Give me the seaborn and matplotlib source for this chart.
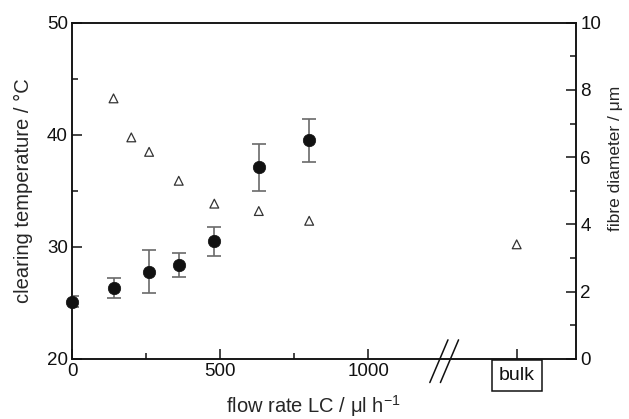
import matplotlib
matplotlib.use("Agg")
import matplotlib.pyplot as plt
import numpy as np
import pandas as pd
import seaborn as sns
from matplotlib.ticker import FixedLocator, MultipleLocator

# ------------------------------

flow_rate = [0, 140, 260, 360, 480, 630, 800]
clearing_temp = [25.1, 26.3, 27.8, 28.4, 30.5, 37.1, 39.5]
clearing_err = [0.5, 0.9, 1.9, 1.1, 1.3, 2.1, 1.9]

fibre_flow = [140, 200, 260, 360, 480, 630, 800]
fibre_diam = [7.75, 6.59, 6.16, 5.30, 4.62, 4.40, 4.11]

BULK_X = 1500
bulk_diam = 3.41

x_ticks_labelled = [0, 500, 1000]
x_ticks_minor = [250, 750]

BLACK = "#111111"
ERR_GREY = "#6a6a6a"
TRI_GREY = "#333333"

DPI = 100
FIGSIZE = (629 / DPI, 419 / DPI)

sns.set_style("ticks")
plt.rcParams["font.family"] = ["Liberation Sans", "DejaVu Sans"]
plt.rcParams["mathtext.fontset"] = "custom"
plt.rcParams["mathtext.rm"] = "Liberation Sans"
plt.rcParams["mathtext.it"] = "Liberation Sans:italic"

# ------------------------------

temp_df = pd.DataFrame({"flow": flow_rate, "temp": clearing_temp, "err": clearing_err})
diam_df = pd.DataFrame(
    {"flow": fibre_flow + [BULK_X], "diam": fibre_diam + [bulk_diam]}
)

fig = plt.figure(figsize=FIGSIZE, dpi=DPI)
ax = fig.add_axes([0.1145, 0.1432, 0.8012, 0.8026])
ax2 = ax.twinx()

# clearing temperature with error bars
ax.errorbar(
    temp_df["flow"], temp_df["temp"], yerr=temp_df["err"],
    fmt="none", ecolor=ERR_GREY, elinewidth=1.2, capsize=4.8, capthick=1.2, zorder=2,
)
sns.scatterplot(
    data=temp_df, x="flow", y="temp", ax=ax, color=BLACK, s=80,
    marker="o", edgecolor=BLACK, linewidth=0.5, zorder=3, legend=False,
)
for coll in ax.collections:
    coll.set_clip_on(False)

# fibre diameter (open triangles)
sns.scatterplot(
    data=diam_df, x="flow", y="diam", ax=ax2, marker="^", s=40,
    facecolor="none", edgecolor=TRI_GREY, linewidth=0.9, legend=False,
)

ax.set_xlim(0, 1700)
ax.set_ylim(20, 50)
ax2.set_ylim(0, 10)

ax.xaxis.set_major_locator(FixedLocator(x_ticks_labelled + [BULK_X]))
ax.set_xticklabels([str(v) for v in x_ticks_labelled] + [""])
ax.xaxis.set_minor_locator(FixedLocator(x_ticks_minor))
ax.yaxis.set_major_locator(MultipleLocator(10))
ax.yaxis.set_minor_locator(MultipleLocator(5))
ax2.yaxis.set_major_locator(MultipleLocator(2))
ax2.yaxis.set_minor_locator(MultipleLocator(1))

for a in (ax, ax2):
    for sp in a.spines.values():
        sp.set_linewidth(1.1)
        sp.set_color(BLACK)
    a.tick_params(which="major", direction="in", length=7, width=1.1,
                  labelsize=13.5, colors=BLACK, pad=3)
    a.tick_params(which="minor", direction="in", length=4.5, width=1.1, colors=BLACK)
ax.tick_params(axis="y", which="both", right=False)
ax.tick_params(axis="x", which="both", top=False)

ax.set_xlabel("flow rate LC / μl h$^{-1}$", fontsize=14.5)
ax.set_ylabel("clearing temperature / °C", fontsize=14.5)
ax2.set_ylabel("fibre diameter / μm", fontsize=12.5)
ax.xaxis.set_label_coords(0.478, -0.102)
ax.yaxis.set_label_coords(-0.077, 0.5)
ax2.yaxis.set_label_coords(1.064, 0.597)

# axis break marks
for dx in (0.0, 0.021):
    ax.plot([0.710 + dx, 0.746 + dx], [-0.07, 0.057], transform=ax.transAxes,
            color=BLACK, lw=1.1, clip_on=False, zorder=5)

# bulk label in a box under its tick
ax.annotate(
    "bulk", xy=(BULK_X, 0), xycoords=("data", "axes fraction"),
    xytext=(0, -12), textcoords="offset points", ha="center", va="center",
    fontsize=14, color=BLACK,
    bbox=dict(boxstyle="square,pad=0.36", facecolor="white", edgecolor=BLACK, linewidth=1.1),
)

ax.set_zorder(ax2.get_zorder() + 1)
ax.patch.set_visible(False)

plt.savefig("out.png", dpi=DPI)
plt.close()
